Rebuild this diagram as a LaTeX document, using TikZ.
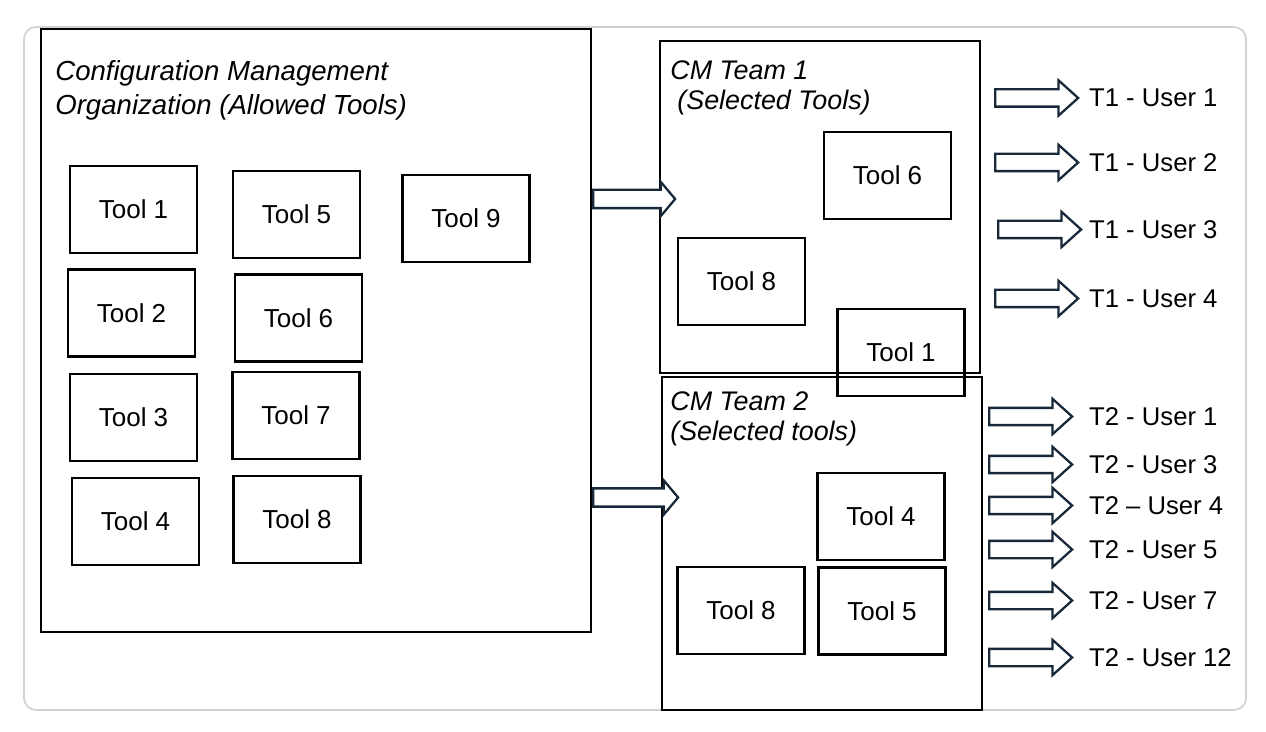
\documentclass[tikz,border=0pt]{standalone}
\usepackage{fontspec}
\setmainfont{Liberation Sans}
\usepackage{tikz}
\usetikzlibrary{shapes.arrows, positioning}
\usepackage{xcolor}
\definecolor{arrowblue}{RGB}{24,40,56}
\definecolor{framegray}{RGB}{210,210,210}

\tikzset{
  bigbox/.style={draw, line width=1.5pt, minimum width=6.4cm, minimum height=6.64cm},
  toolbox/.style={draw, line width=1.2pt, minimum width=2.54cm, minimum height=1.74cm,
    font=\fontsize{14.8pt}{17pt}\selectfont},
  boxtitle/.style={anchor=base west, inner sep=0pt, align=left,
    font=\fontsize{15.3pt}{17.6pt}\selectfont\itshape},
  bigarrow/.style={single arrow, draw=arrowblue, line width=1.3pt, fill=white, anchor=tail,
    inner xsep=0pt, inner ysep=0.16cm, single arrow head extend=0.16cm,
    single arrow tip angle=100, minimum height=1.64cm},
  usrarrow/.style={single arrow, draw=arrowblue, line width=1.3pt, fill=white, anchor=tail,
    inner xsep=0pt, inner ysep=0.15cm, single arrow head extend=0.18cm,
    single arrow tip angle=84, minimum height=1.66cm},
  usrlabel/.style={anchor=west, inner sep=0pt, font=\fontsize{14.6pt}{17pt}\selectfont}
}

\begin{document}
\begin{tikzpicture}[x=0.02cm, y=-0.02cm]
  \useasboundingbox (0,0) rectangle (1266,732);
  % outer frame
  \draw[framegray, line width=1pt, rounded corners=0.24cm] (24,27) rectangle (1246,710);

  % organization with all allowed tools
  \node[bigbox, minimum width=11cm, minimum height=12.06cm] (org) at (316,330.5) {};
  \node[boxtitle, font=\fontsize{15.7pt}{19.8pt}\selectfont\itshape] (orgtitle) at (55,115)
    {Configuration Management\\Organization (Allowed Tools)};
  \node[toolbox] (o1) at (133.5,209.5) {Tool 1};
  \node[toolbox] (o5) at (296.5,214.5) {Tool 5};
  \node[toolbox] (o9) at (466,218.5) {Tool 9};
  \node[toolbox] (o2) at (131.5,313) {Tool 2};
  \node[toolbox] (o6) at (298.5,318) {Tool 6};
  \node[toolbox] (o3) at (133.5,417.5) {Tool 3};
  \node[toolbox] (o7) at (296,415.5) {Tool 7};
  \node[toolbox] (o4) at (135.5,521.5) {Tool 4};
  \node[toolbox] (o8) at (297,519.5) {Tool 8};

  % team 1
  \node[bigbox] (team1) at (820,207) {};
  \node[boxtitle] (t1title) at (670,110) {CM Team 1\\\hspace*{4pt}(Selected Tools)};
  \node[toolbox] (a6) at (887.5,175.5) {Tool 6};
  \node[toolbox] (a8) at (741.5,281.5) {Tool 8};
  \node[toolbox, text depth=-0.2cm] (a1) at (901,352.5) {Tool 1};

  % team 2
  \node[bigbox, minimum height=6.66cm] (team2) at (822,543.5) {};
  \node[boxtitle, font=\fontsize{15.3pt}{17pt}\selectfont\itshape] (t2title) at (670,440)
    {CM Team 2\\(Selected tools)};
  \node[toolbox] (b4) at (881,516.5) {Tool 4};
  \node[toolbox] (b8) at (741,610.5) {Tool 8};
  \node[toolbox] (b5) at (882,611) {Tool 5};

  % handing tools over to the teams
  \node[bigarrow] (give1) at (592,199) {};
  \node[bigarrow, minimum height=1.7cm] (give2) at (592,497.5) {};

  % users of team 1
  \node[usrarrow] (u11) at (994,98) {};
  \node[usrlabel, right=0.18cm of u11.tip] (l11) {T1 - User 1};
  \node[usrarrow] (u12) at (994,162.5) {};
  \node[usrlabel, right=0.18cm of u12.tip] (l12) {T1 - User 2};
  \node[usrarrow] (u13) at (997,229.5) {};
  \node[usrlabel, right=0.12cm of u13.tip] (l13) {T1 - User 3};
  \node[usrarrow] (u14) at (994,298.5) {};
  \node[usrlabel, right=0.18cm of u14.tip] (l14) {T1 - User 4};

  % users of team 2
  \node[usrarrow] (u21) at (988,416.5) {};
  \node[usrlabel, right=0.3cm of u21.tip] (l21) {T2 - User 1};
  \node[usrarrow] (u23) at (988,464.5) {};
  \node[usrlabel, right=0.3cm of u23.tip] (l23) {T2 - User 3};
  \node[usrarrow] (u24) at (988,505.5) {};
  \node[usrlabel, right=0.3cm of u24.tip] (l24) {T2 -- User 4};
  \node[usrarrow] (u25) at (988,549.5) {};
  \node[usrlabel, right=0.3cm of u25.tip] (l25) {T2 - User 5};
  \node[usrarrow] (u27) at (988,600.5) {};
  \node[usrlabel, right=0.3cm of u27.tip] (l27) {T2 - User 7};
  \node[usrarrow] (u212) at (988,657.5) {};
  \node[usrlabel, right=0.3cm of u212.tip] (l212) {T2 - User 12};
\end{tikzpicture}
\end{document}
